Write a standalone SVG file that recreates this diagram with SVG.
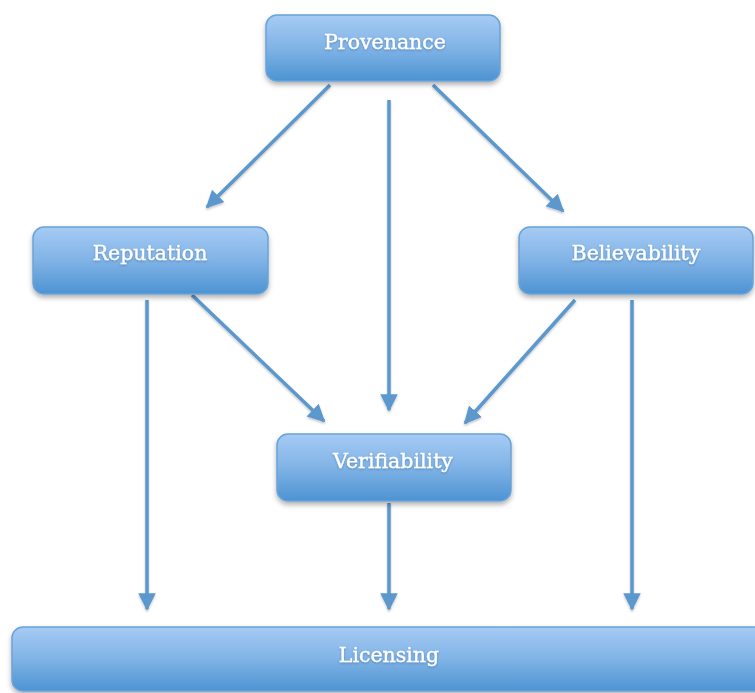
<svg xmlns="http://www.w3.org/2000/svg" width="755" height="693" viewBox="0 0 755 693">
<defs>
<linearGradient id="g" x1="0" y1="0" x2="0" y2="1">
<stop offset="0" stop-color="#a6cbf4"/>
<stop offset="0.5" stop-color="#80b3e6"/>
<stop offset="1" stop-color="#4d93d2"/>
</linearGradient>
<filter id="sh" x="-10%" y="-20%" width="120%" height="150%">
<feDropShadow dx="0" dy="3" stdDeviation="2.5" flood-color="#000" flood-opacity="0.3"/>
</filter>
<filter id="ash" x="-20%" y="-20%" width="140%" height="140%">
<feDropShadow dx="0" dy="1.5" stdDeviation="1" flood-color="#000" flood-opacity="0.25"/>
</filter>
<filter id="tsh" x="-10%" y="-30%" width="120%" height="160%">
<feDropShadow dx="0" dy="1" stdDeviation="0.8" flood-color="#2a5d8f" flood-opacity="0.5"/>
</filter>
<marker id="ah" viewBox="0 0 10 10" refX="9" refY="5" markerWidth="5" markerHeight="6" orient="auto" markerUnits="strokeWidth">
<path d="M0,0 L10,5 L0,10 Z" fill="#5b98cd"/>
</marker>
</defs>
<style>
.box{fill:url(#g);stroke:#6aa3d9;stroke-width:1.5;filter:url(#sh)}
.lbl{font-family:"DejaVu Serif","Liberation Serif",serif;font-size:20.5px;fill:#ffffff;stroke:#ffffff;stroke-width:0.35;text-anchor:middle;dominant-baseline:central;filter:url(#tsh)}
.c{stroke:#5b98cd;stroke-width:3.5;fill:none;marker-end:url(#ah)}
</style>
<rect width="755" height="693" fill="#ffffff"/>
<g id="connectors" filter="url(#ash)">
<line class="c" x1="330" y1="85" x2="207" y2="207"/>
<line class="c" x1="389" y1="100" x2="389" y2="410"/>
<line class="c" x1="433" y1="85" x2="563" y2="211"/>
<line class="c" x1="147" y1="300" x2="147" y2="609"/>
<line class="c" x1="192" y1="295" x2="324" y2="421"/>
<line class="c" x1="575" y1="300" x2="465" y2="423"/>
<line class="c" x1="632" y1="300" x2="632" y2="609"/>
<line class="c" x1="389" y1="503" x2="389" y2="609"/>
</g>
<g id="provenance">
<rect class="box" x="266" y="15" width="234" height="66" rx="11"/>
<text class="lbl" x="385" y="42">Provenance</text>
</g>
<g id="reputation">
<rect class="box" x="33" y="227" width="235" height="67" rx="11"/>
<text class="lbl" x="150" y="253">Reputation</text>
</g>
<g id="believability">
<rect class="box" x="519" y="227" width="234" height="67" rx="11"/>
<text class="lbl" x="636" y="253">Believability</text>
</g>
<g id="verifiability">
<rect class="box" x="277" y="434" width="234" height="67" rx="11"/>
<text class="lbl" x="393" y="461">Verifiability</text>
</g>
<g id="licensing">
<rect class="box" x="12" y="627" width="770" height="64" rx="11"/>
<text class="lbl" x="389" y="655">Licensing</text>
</g>
</svg>
